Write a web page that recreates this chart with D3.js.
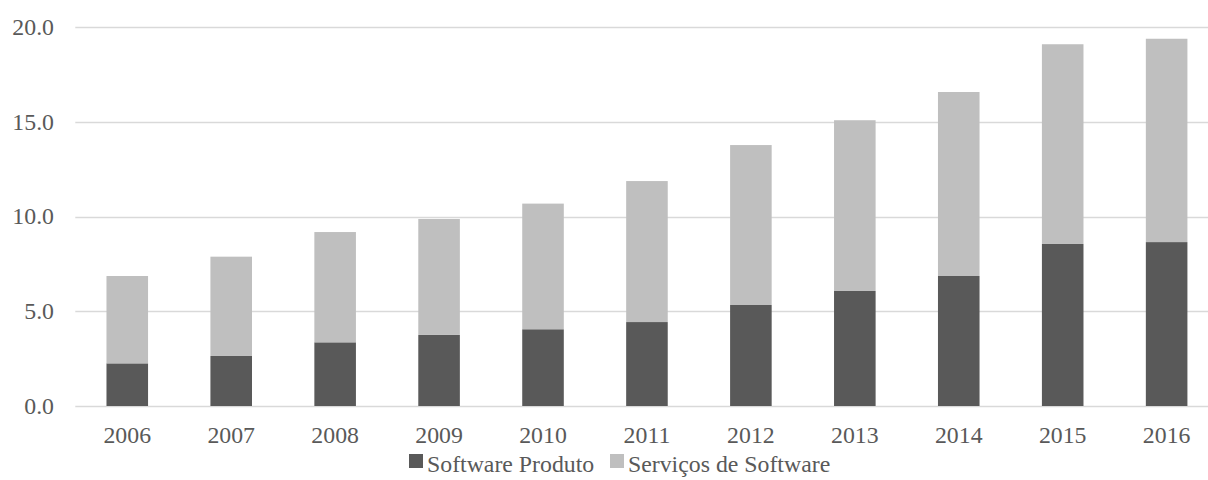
<!DOCTYPE html>
<html>
<head>
<meta charset="utf-8">
<script src="https://cdn.jsdelivr.net/npm/d3@7/dist/d3.min.js"></script>
<style>
  body { margin: 0; background: #fff; }
  text { font-family: "Liberation Serif", "Times New Roman", serif; fill: #595959; }
</style>
</head>
<body>
<div id="chart"></div>
<script>
// data
var years = ["2006", "2007", "2008", "2009", "2010", "2011", "2012", "2013", "2014", "2015", "2016"];
var produto = [2.25, 2.64, 3.36, 3.75, 4.05, 4.43, 5.33, 6.07, 6.86, 8.55, 8.65];
var servicos = [4.61, 5.24, 5.82, 6.12, 6.63, 7.44, 8.44, 9.01, 9.71, 10.54, 10.73];
var yTicks = [0, 5, 10, 15, 20];
var seriesNames = ["Software Produto", "Serviços de Software"];
var seriesColors = ["#595959", "#bfbfbf"];

var width = 1208, height = 480;
var fontSize = "23.8px";

var svg = d3.select("#chart").append("svg")
    .attr("width", width)
    .attr("height", height);

var x = d3.scaleBand()
    .domain(years)
    .range([75.3, 1218.6])
    .paddingInner(0.6)
    .paddingOuter(0.3);

var y = d3.scaleLinear()
    .domain([0, 20])
    .range([406, 27]);

// gridlines
svg.append("g").selectAll("line")
    .data(yTicks)
    .enter().append("line")
    .attr("x1", 75.3)
    .attr("x2", 1218.6)
    .attr("y1", function(d) { return Math.round(y(d)) + 0.5; })
    .attr("y2", function(d) { return Math.round(y(d)) + 0.5; })
    .attr("stroke", "#d9d9d9")
    .attr("stroke-width", 1.4);

// y labels
svg.append("g").selectAll("text")
    .data(yTicks)
    .enter().append("text")
    .attr("x", 54)
    .attr("y", function(d) { return y(d); })
    .attr("dy", "0.33em")
    .attr("text-anchor", "end")
    .style("font-size", fontSize)
    .text(function(d) { return d3.format(".1f")(d); });

// stacked bars
var rows = years.map(function(yr, i) { return { year: yr, produto: produto[i], servicos: servicos[i] }; });
var stack = d3.stack().keys(["produto", "servicos"])(rows);

svg.append("g").selectAll("g")
    .data(stack)
    .enter().append("g")
    .attr("fill", function(d, i) { return seriesColors[i]; })
    .selectAll("rect")
    .data(function(d) { return d; })
    .enter().append("rect")
    .attr("x", function(d) { return x(d.data.year); })
    .attr("width", x.bandwidth())
    .attr("y", function(d) { return y(d[1]); })
    .attr("height", function(d) { return y(d[0]) - y(d[1]); });

// x labels
svg.append("g").selectAll("text")
    .data(years)
    .enter().append("text")
    .attr("x", function(d) { return x(d) + x.bandwidth() / 2; })
    .attr("y", 443)
    .attr("text-anchor", "middle")
    .style("font-size", fontSize)
    .text(function(d) { return d; });

// legend
var legendX = [409, 610];
var legend = svg.append("g").selectAll("g")
    .data(seriesNames)
    .enter().append("g")
    .attr("transform", function(d, i) { return "translate(" + legendX[i] + ",0)"; });

legend.append("rect")
    .attr("x", 0)
    .attr("y", 454)
    .attr("width", 14)
    .attr("height", 14)
    .attr("fill", function(d, i) { return seriesColors[i]; });

legend.append("text")
    .attr("x", 18)
    .attr("y", 472)
    .style("font-size", fontSize)
    .text(function(d) { return d; });
</script>
</body>
</html>
